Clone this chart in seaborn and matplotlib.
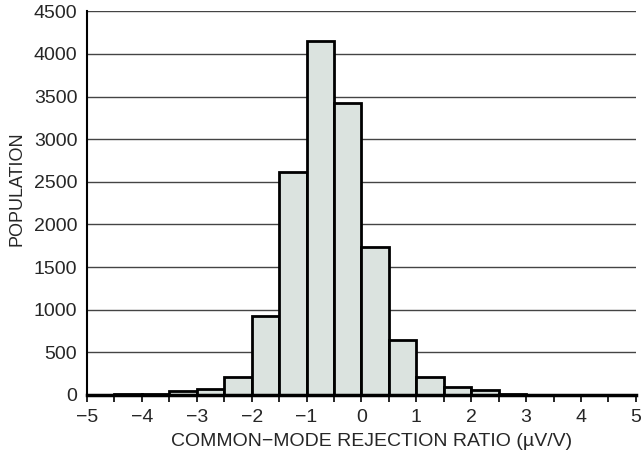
import numpy as np
import pandas as pd
import matplotlib
matplotlib.use("Agg")
import matplotlib.pyplot as plt
import seaborn as sns

sns.set_style("white")
plt.rcParams['font.family'] = ['Liberation Sans', 'DejaVu Sans']

# histogram bins (uV/V) and counts
bin_edges = [-5.0, -4.5, -4.0, -3.5, -3.0, -2.5, -2.0, -1.5, -1.0, -0.5, 0.0,
             0.5, 1.0, 1.5, 2.0, 2.5, 3.0, 3.5, 4.0, 4.5, 5.0]
counts = [0, 15, 15, 50, 65, 210, 930, 2615, 4150, 3425, 1735,
          650, 210, 95, 55, 10, 3, 0, 0, 0]
xticks = [-5, -4, -3, -2, -1, 0, 1, 2, 3, 4, 5]
yticks = [0, 500, 1000, 1500, 2000, 2500, 3000, 3500, 4000, 4500]

centers = [(a + b) / 2 for a, b in zip(bin_edges[:-1], bin_edges[1:])]
df = pd.DataFrame({"cmrr": centers, "n": counts})

fig = plt.figure(figsize=(6.42, 4.68), dpi=100)
ax = fig.add_axes([0.1355, 0.156, 0.855, 0.82])

for y in yticks[1:]:
    ax.axhline(y, color="#444444", lw=1.0, zorder=0)

sns.histplot(data=df, x="cmrr", weights="n", bins=bin_edges, ax=ax,
             color="#dbe3df", edgecolor="black", linewidth=2.0, alpha=1,
             zorder=2)

ax.set_xlim(-5, 5)
ax.set_ylim(0, 4500)
ax.set_xticks(xticks)
ax.set_xticks(bin_edges, minor=True)
ax.set_yticks(yticks)
ax.tick_params(axis="x", which="both", direction="out", length=5, width=1.2,
               color="black", labelsize=14, pad=5, bottom=True)
ax.tick_params(axis="y", length=0, labelsize=14, pad=7)

for s in ["top", "right"]:
    ax.spines[s].set_visible(False)
ax.spines["left"].set_color("black")
ax.spines["left"].set_linewidth(1.5)
ax.spines["bottom"].set_color("black")
ax.spines["bottom"].set_linewidth(2.5)
ax.spines["bottom"].set_zorder(3)

ax.set_xlabel("COMMON\u2212MODE REJECTION RATIO (\u00b5V/V)", fontsize=14)
ax.xaxis.set_label_coords(0.518, -0.1)
ax.set_ylabel("POPULATION", fontsize=13)
ax.yaxis.set_label_coords(-0.112, 0.537)

fig.savefig("out.png", dpi=100)
